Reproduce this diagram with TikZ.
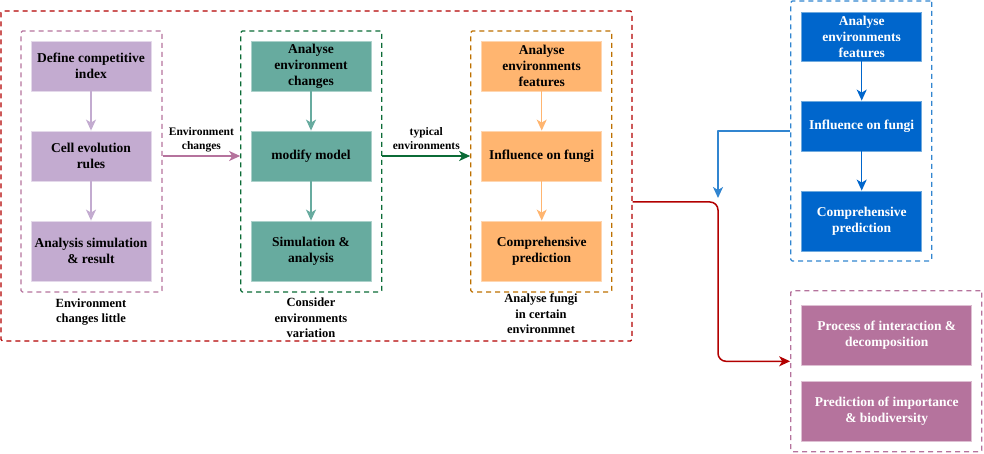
\documentclass[tikz,border=0pt]{standalone}
\usepackage{fontspec}
\setmainfont{Liberation Serif}
\usetikzlibrary{arrows.meta,positioning,calc}
\definecolor{lilac}{HTML}{C3ABD0}
\definecolor{mauve}{HTML}{B5739D}
\definecolor{seagreen}{HTML}{67AB9F}
\definecolor{pinegreen}{HTML}{0B6B36}
\definecolor{apricot}{HTML}{FFB570}
\definecolor{amber}{HTML}{BD7000}
\definecolor{ocean}{HTML}{0066CC}
\definecolor{sky}{HTML}{3185D0}
\definecolor{crimson}{HTML}{B20000}

\begin{document}
\begin{tikzpicture}[x=1pt, y=-1pt, line join=round,
  box/.style={rectangle, minimum width=120pt, minimum height=50pt, inner sep=1pt, align=center,
              font=\fontsize{13.5}{16}\selectfont\bfseries, line width=0.8pt},
  tall/.style={box, minimum height=60pt},
  grp/.style={draw, dash pattern=on 5pt off 4pt, line width=1.3pt, rounded corners=1.5pt,
              minimum width=141pt, minimum height=261pt, inner sep=0pt},
  grpcap/.style={align=center, font=\fontsize{12.5}{15.5}\selectfont\bfseries},
  tag/.style={align=center, text=black, font=\fontsize{11.5}{14}\selectfont\bfseries, inner sep=2pt},
  lnk/.style={-{Stealth[length=11pt,width=10pt,inset=3pt]}, line width=1.5pt}]
\useasboundingbox (0,0) rectangle (984,454);

\node[grp, crimson, minimum width=631pt, minimum height=330pt] (outer) at (316.5,176) {};

\node[grp, mauve]     (pgrp) at (91.5,161.5)  {};
\node[grp, pinegreen] (ggrp) at (311.3,161.5) {};
\node[grp, amber]     (ogrp) at (541.3,161.5) {};
\node[grp, sky, minimum height=260pt]                   (bgrp)  at (861.3,131)   {};
\node[grp, mauve, minimum width=191pt, minimum height=161pt] (pkgrp) at (886.3,371.3) {};

\node[box,  fill=lilac, draw=lilac!45!white] (index) at (91,66)  {Define competitive\\index};
\node[box,  fill=lilac, draw=lilac!45!white] (rules) at (91,156) {Cell evolution\\rules};
\node[tall, fill=lilac, draw=lilac!45!white] (simres) at (91,251) {Analysis simulation\\\& result};

\node[box,  fill=seagreen, draw=seagreen!55!white] (envchg) at (311,66)  {Analyse\\environment\\changes};
\node[box,  fill=seagreen, draw=seagreen!55!white] (modify) at (311,156) {modify model};
\node[tall, fill=seagreen, draw=seagreen!55!white] (simana) at (311,251) {Simulation \&\\analysis};

\node[box,  fill=apricot, draw=apricot!55!white] (feat)   at (541.7,66)  {Analyse\\environments\\features};
\node[box,  fill=apricot, draw=apricot!55!white] (infl)   at (541.7,156) {Influence on fungi};
\node[tall, fill=apricot, draw=apricot!55!white] (pred)   at (541.7,251) {Comprehensive\\prediction};

\node[box,  fill=ocean, draw=sky!70!white, text=white, minimum height=49pt] (bfeat) at (861.7,36.5) {Analyse\\environments\\features};
\node[box,  fill=ocean, draw=sky!70!white, text=white] (binfl) at (861.7,126) {Influence on fungi};
\node[tall, fill=ocean, draw=sky!70!white, text=white] (bpred) at (861.7,221) {Comprehensive\\prediction};

\node[tall, fill=mauve, draw=mauve!45!white, text=white, minimum width=170pt] (decomp) at (886.7,335) {Process of interaction \&\\decomposition};
\node[tall, fill=mauve, draw=mauve!45!white, text=white, minimum width=170pt] (biodiv) at (886.7,411) {Prediction of importance\\\& biodiversity};

\node[grpcap] (pcap) at (91,312)    {Environment\\changes little};
\node[grpcap] (gcap) at (311,318)   {Consider\\environments\\variation};
\node[grpcap] (ocap) at (541,314)   {Analyse fungi\\in certain\\environmnet};

\coordinate (fork) at (718,202);

\draw[lnk, lilac] (index) -- (rules);
\draw[lnk, lilac] (rules) -- (simres);
\draw[lnk, seagreen] (envchg) -- (modify);
\draw[lnk, seagreen] (modify) -- (simana);
\draw[lnk, apricot] (feat) -- (infl);
\draw[lnk, apricot] (infl) -- (pred);
\draw[lnk, ocean] (bfeat) -- (binfl);
\draw[lnk, ocean] (binfl) -- (bpred);

\draw[lnk, mauve] (pgrp.east |- rules) -- node[tag, above=1pt] {Environment\\changes} (ggrp.west |- rules);
\draw[lnk, pinegreen] (ggrp.east |- modify) -- node[tag, above=4pt] {typical\\environments} (ogrp.west |- modify);

\draw[lnk, sky] (bgrp.west) -| ([yshift=4pt]fork);
\draw[lnk, crimson, rounded corners=8pt] (outer.east |- fork) -- (fork) |- ([yshift=10pt]pkgrp.west);
\end{tikzpicture}
\end{document}
